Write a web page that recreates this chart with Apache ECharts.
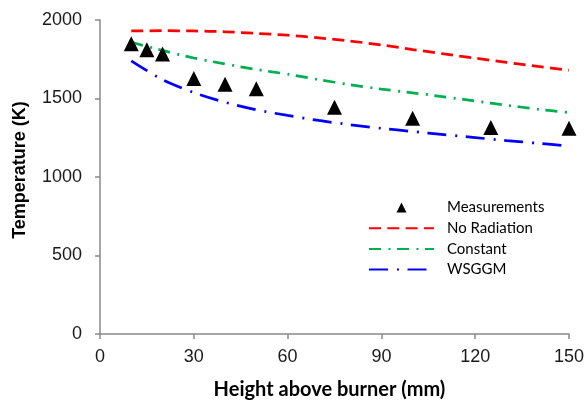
<!DOCTYPE html>
<html>
<head>
<meta charset="utf-8">
<script src="https://cdn.jsdelivr.net/npm/echarts@6/dist/echarts.min.js"></script>
<style>
html,body{margin:0;padding:0;background:#fff;}
#chart{width:587px;height:406px;}
</style>
</head>
<body>
<div id="chart"></div>
<script>
// Data
var heightsMeas = [10, 15, 20, 30, 40, 50, 75, 100, 125, 150];
var measurements = [1848, 1810, 1783, 1627, 1590, 1562, 1445, 1374, 1316, 1310];

var heightsModel = [10, 20, 30, 40, 50, 60, 70, 80, 90, 100, 110, 120, 130, 140, 150];
var noRadiation = [1930, 1932, 1930, 1925, 1915, 1903, 1886, 1866, 1841, 1812, 1784, 1757, 1730, 1704, 1680];
var constantModel = [1858, 1806, 1758, 1720, 1685, 1655, 1620, 1588, 1560, 1536, 1511, 1484, 1457, 1432, 1410];
var wsggm = [1740, 1620, 1538, 1476, 1428, 1392, 1360, 1333, 1310, 1290, 1270, 1251, 1232, 1215, 1197];

var seriesNames = ['Measurements', 'No Radiation', 'Constant', 'WSGGM'];
var xAxisTitle = 'Height above burner (mm)';
var yAxisTitle = 'Temperature (K)';

function pairs(xs, ys) { return xs.map(function (x, i) { return [x, ys[i]]; }); }

var chart = echarts.init(document.getElementById('chart'));
var axisColor = '#898989';
var labelFont = { fontFamily: 'Liberation Sans', fontSize: 18, color: '#1a1a1a' };
var hidden = { color: 'rgba(0,0,0,0)', borderWidth: 0 };

chart.setOption({
  animation: false,
  backgroundColor: '#fff',
  grid: { left: 100, right: 16, top: 20, bottom: 72, containLabel: false },
  legend: {
    orient: 'vertical',
    left: 368,
    top: 200,
    padding: 0,
    itemWidth: 65,
    itemHeight: 10,
    itemGap: 5.7,
    symbolKeepAspect: true,
    textStyle: { fontFamily: 'Lato', fontSize: 15, color: '#000', lineHeight: 14, padding: [0, 0, 0, 8] },
    data: [
      { name: seriesNames[0], icon: 'path://M5,0 L10,10 L0,10 Z', itemStyle: { color: '#000' } },
      { name: seriesNames[1], itemStyle: hidden },
      { name: seriesNames[2], itemStyle: hidden },
      { name: seriesNames[3], itemStyle: hidden }
    ]
  },
  xAxis: {
    type: 'value', min: 0, max: 150, interval: 30,
    name: xAxisTitle, nameLocation: 'middle', nameGap: 46,
    nameTextStyle: { fontFamily: 'Lato', fontWeight: 'bold', fontSize: 20, color: '#000', padding: [0, 10, 0, 0] },
    axisLine: { lineStyle: { color: axisColor, width: 1.5 } },
    axisTick: { show: true, inside: false, length: 5, lineStyle: { color: axisColor, width: 1.5 } },
    axisLabel: Object.assign({ margin: 14, formatter: function (v) { return String(v); } }, labelFont),
    splitLine: { show: false }
  },
  yAxis: {
    type: 'value', min: 0, max: 2000, interval: 500,
    name: yAxisTitle, nameLocation: 'middle', nameGap: 71,
    nameTextStyle: { fontFamily: 'Liberation Sans', fontWeight: 'bold', fontSize: 18, color: '#000', padding: [0, 0, 0, 14] },
    axisLine: { show: true, lineStyle: { color: axisColor, width: 1.5 } },
    axisTick: { show: true, inside: false, length: 5, lineStyle: { color: axisColor, width: 1.5 } },
    axisLabel: Object.assign({ margin: 18, formatter: function (v) { return String(v); } }, labelFont),
    splitLine: { show: false }
  },
  series: [
    {
      name: seriesNames[0], type: 'scatter', symbol: 'triangle', symbolSize: 15,
      itemStyle: { color: '#000', opacity: 1 }, z: 5,
      data: pairs(heightsMeas, measurements)
    },
    {
      name: seriesNames[1], type: 'line', smooth: 0.3, showSymbol: false, symbol: 'none',
      itemStyle: { color: '#FF0000' },
      lineStyle: { color: '#FF0000', width: 2.75, type: [12, 6.3], cap: 'butt' },
      data: pairs(heightsModel, noRadiation)
    },
    {
      name: seriesNames[2], type: 'line', smooth: 0.3, showSymbol: false, symbol: 'none',
      itemStyle: { color: '#00B050' },
      lineStyle: { color: '#00B050', width: 2.75, type: [12, 7.5, 2, 6.5], cap: 'butt' },
      data: pairs(heightsModel, constantModel)
    },
    {
      name: seriesNames[3], type: 'line', smooth: 0.3, showSymbol: false, symbol: 'none',
      itemStyle: { color: '#0000FF' },
      lineStyle: { color: '#0000FF', width: 2.75, type: [19, 9, 2, 8.5], cap: 'butt' },
      data: pairs(heightsModel, wsggm)
    }
  ]
});
</script>
</body>
</html>
